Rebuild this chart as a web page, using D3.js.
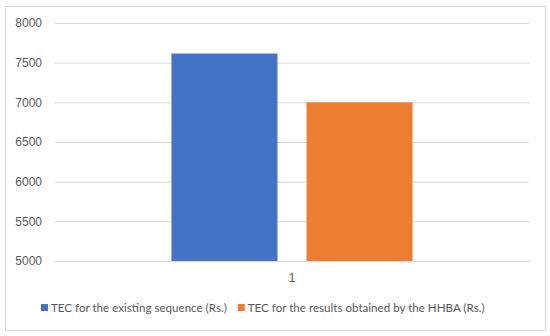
<!DOCTYPE html>
<html>
<head>
<meta charset="utf-8">
<script src="https://cdn.jsdelivr.net/npm/d3@7"></script>
<style>
  body { margin: 0; background: #fff; }
  svg { font-family: Lato, 'Open Sans', sans-serif; }
</style>
</head>
<body>
<svg id="chart" width="550" height="336"></svg>
<script>
const categories = ['1'];
const seriesNames = [
  'TEC for the existing sequence (Rs.)',
  'TEC for the results obtained by the HHBA (Rs.)'
];
const seriesValues = [[7615], [7000]];
const yTicks = [5000, 5500, 6000, 6500, 7000, 7500, 8000];

const colors = d3.scaleOrdinal().domain(seriesNames).range(['#4472C4', '#ED7D31']);

const svg = d3.select('#chart');

// outer frame
svg.append('rect')
  .attr('x', 5.5).attr('y', 6.5)
  .attr('width', 540).attr('height', 324)
  .attr('fill', '#fff')
  .attr('stroke', '#d9d9d9');

const margin = { left: 55, right: 21, top: 23, bottom: 75 };
const width = 550 - margin.left - margin.right;
const height = 336 - margin.top - margin.bottom;

const g = svg.append('g').attr('transform', `translate(${margin.left},${margin.top})`);

const y = d3.scaleLinear().domain([5000, 8000]).range([height, 0]);

const x0 = d3.scaleBand().domain(categories).range([0, width])
  .paddingInner(0).paddingOuter(0.483);
const x1 = d3.scaleBand().domain(seriesNames).range([0, x0.bandwidth()])
  .paddingInner(0.215).paddingOuter(0);

// gridlines
const yAxis = d3.axisLeft(y).tickValues(yTicks).tickFormat(d3.format('d'))
  .tickSize(-width).tickPadding(13);
g.append('g').attr('class', 'y-axis').call(yAxis)
  .call(a => a.select('.domain').remove())
  .call(a => a.selectAll('.tick line').attr('stroke', '#d9d9d9'))
  .call(a => a.selectAll('.tick text')
    .attr('fill', '#595959').style('font-size', '12px'));

// bars
const rows = categories.map((c, i) => ({
  category: c,
  values: seriesNames.map((s, j) => ({ series: s, value: seriesValues[j][i] }))
}));

g.selectAll('.cat').data(rows).enter()
  .append('g').attr('class', 'cat')
  .attr('transform', d => `translate(${x0(d.category)},0)`)
  .selectAll('rect').data(d => d.values).enter()
  .append('rect')
  .attr('x', d => x1(d.series))
  .attr('width', x1.bandwidth())
  .attr('y', d => y(d.value))
  .attr('height', d => height - y(d.value))
  .attr('fill', d => colors(d.series));

// x axis
const xAxis = d3.axisBottom(x0).tickSize(0).tickPadding(12);
g.append('g').attr('transform', `translate(0,${height})`).call(xAxis)
  .call(a => a.select('.domain').attr('stroke', '#d9d9d9'))
  .call(a => a.selectAll('.tick text')
    .attr('fill', '#595959').style('font-size', '12px'));

// legend
const legend = svg.append('g').attr('transform', 'translate(41,308)');
const items = legend.selectAll('.item').data(seriesNames).enter()
  .append('g').attr('class', 'item');
items.append('rect')
  .attr('width', 7).attr('height', 7).attr('y', -4)
  .attr('fill', d => colors(d));
items.append('text')
  .attr('x', 10).attr('dy', '0.35em')
  .attr('fill', '#595959').style('font-size', '11.6px')
  .text(d => d);
let offset = 0;
items.each(function () {
  d3.select(this).attr('transform', `translate(${offset},0)`);
  offset += this.getBBox().width + 11;
});
</script>
</body>
</html>
